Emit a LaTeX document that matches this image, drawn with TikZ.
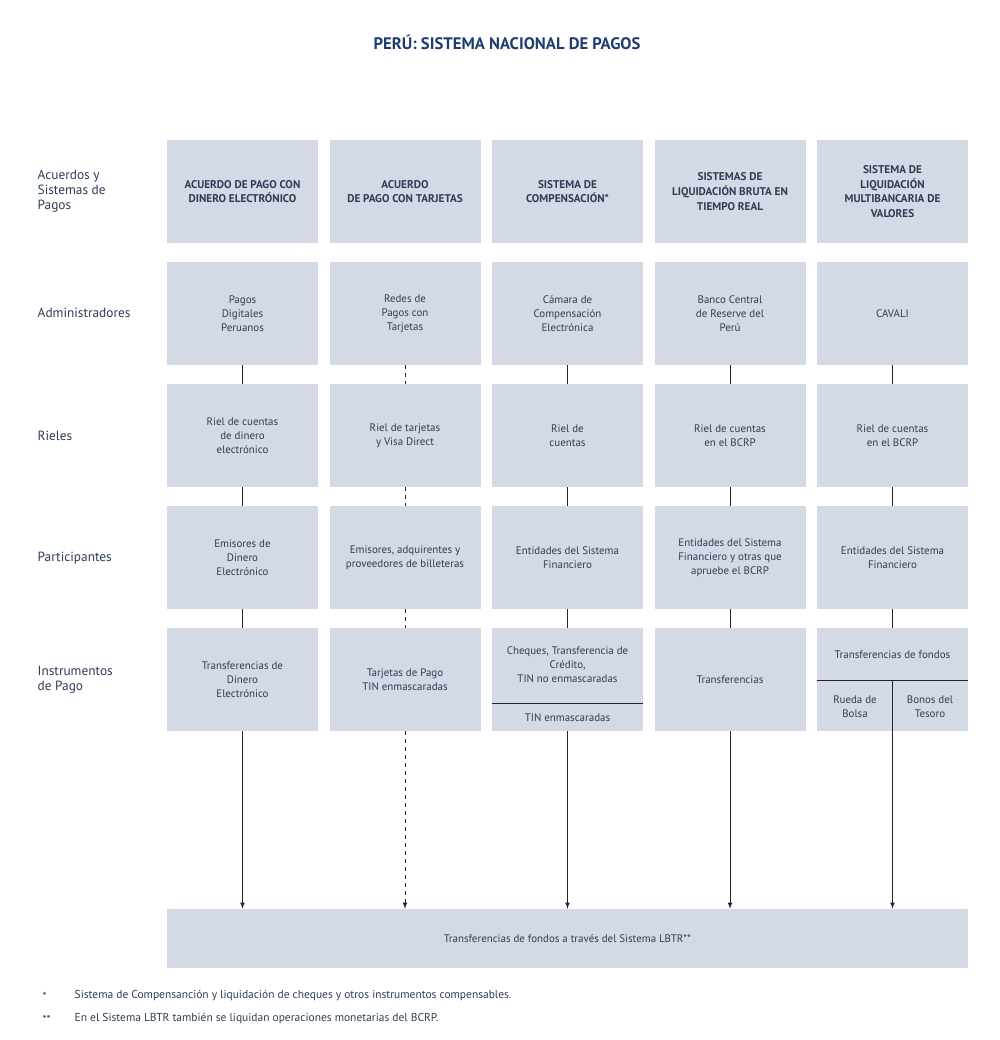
\documentclass[tikz,border=0pt]{standalone}
\usepackage{fontspec}
\setmainfont{PT Sans}
\begin{document}
\definecolor{bx}{HTML}{D3DAE6}
\definecolor{tt}{HTML}{1F3D6E}
\definecolor{tx}{HTML}{2E3D55}
\begin{tikzpicture}[x=0.75pt,y=-0.75pt,
  box/.style={fill=bx,draw=none,minimum width=113.25pt,minimum height=77.25pt,inner sep=0pt,align=center,font=\fontsize{8.2}{10.5}\selectfont,text=tx},
  hd/.style={box,font=\bfseries\fontsize{8.4}{11}\selectfont},
  lab/.style={anchor=west,align=left,font=\fontsize{10}{11.5}\selectfont,text=tx},
  ln/.style={draw=black!85,line width=0.6pt},
  ar/.style={ln,-latex}]
\useasboundingbox (0,0) rectangle (1000,1040);
\node[font=\bfseries\fontsize{12.5}{14}\selectfont,text=tt] (title) at (507,42) {PERÚ: SISTEMA NACIONAL DE PAGOS};
\foreach \c/\x in {1/242.5,2/405,3/567.5,4/730,5/892.5}{
 \foreach \r/\y in {1/191.5,2/313.5,3/435.5,4/557.5,5/679.5}{
   \coordinate (p\c\r) at (\x,\y);}}
\node[hd] (h1) at (p11) {ACUERDO DE PAGO CON\\DINERO ELECTRÓNICO};
\node[hd] (h2) at (p21) {ACUERDO\\DE PAGO CON TARJETAS};
\node[hd] (h3) at (p31) {SISTEMA DE\\COMPENSACIÓN*};
\node[hd] (h4) at (p41) {SISTEMAS DE\\LIQUIDACIÓN BRUTA EN\\TIEMPO REAL};
\node[hd] (h5) at (p51) {SISTEMA DE\\LIQUIDACIÓN\\MULTIBANCARIA DE\\VALORES};
\node[box] (a1) at (p12) {Pagos\\Digitales\\Peruanos};
\node[box] (a2) at (p22) {Redes de\\Pagos con\\Tarjetas};
\node[box] (a3) at (p32) {Cámara de\\Compensación\\Electrónica};
\node[box] (a4) at (p42) {Banco Central\\de Reserve del\\Perú};
\node[box] (a5) at (p52) {CAVALI};
\node[box] (r1) at (p13) {Riel de cuentas\\de dinero\\electrónico};
\node[box] (r2) at (p23) {Riel de tarjetas\\y Visa Direct};
\node[box] (r3) at (p33) {Riel de\\cuentas};
\node[box] (r4) at (p43) {Riel de cuentas\\en el BCRP};
\node[box] (r5) at (p53) {Riel de cuentas\\en el BCRP};
\node[box] (q1) at (p14) {Emisores de\\Dinero\\Electrónico};
\node[box] (q2) at (p24) {Emisores, adquirentes y\\proveedores de billeteras};
\node[box] (q3) at (p34) {Entidades del Sistema\\Financiero};
\node[box] (q4) at (p44) {Entidades del Sistema\\Financiero y otras que\\apruebe el BCRP};
\node[box] (q5) at (p54) {Entidades del Sistema\\Financiero};
\node[box] (i1) at (p15) {Transferencias de\\Dinero\\Electrónico};
\node[box] (i2) at (p25) {Tarjetas de Pago\\TIN enmascaradas};
\node[box] (i3) at (p35) {};
\node[box] (i4) at (p45) {Transferencias};
\node[box] (i5) at (p55) {};
\node[font=\fontsize{8.2}{10.5}\selectfont,text=tx,align=center] (i3a) at (567.5,665) {Cheques, Transferencia de\\Crédito,\\TIN no enmascaradas};
\node[font=\fontsize{8.2}{10.5}\selectfont,text=tx] (i3b) at (567.5,718) {TIN enmascaradas};
\draw[ln] (i3.west |- 0,703) coordinate (d3a) -- (i3.east |- 0,703) coordinate (d3b);
\node[font=\fontsize{8.2}{10.5}\selectfont,text=tx] (i5a) at (892.5,655) {Transferencias de fondos};
\node[font=\fontsize{8.2}{10.5}\selectfont,text=tx,align=center] (i5b) at (855,707) {Rueda de\\Bolsa};
\node[font=\fontsize{8.2}{10.5}\selectfont,text=tx,align=center] (i5c) at (930,707) {Bonos del\\Tesoro};
\draw[ln] (i5.west |- 0,680) coordinate (d5a) -- (i5.east |- 0,680) coordinate (d5b);
\node[box,minimum width=600.75pt,minimum height=44.25pt] (bot) at (567.5,938.5) {Transferencias de fondos a través del Sistema LBTR**};
\node[lab] (l1) at (33,191) {Acuerdos y\\Sistemas de\\Pagos};
\node[lab] (l2) at (33,313) {Administradores};
\node[lab] (l3) at (33,436) {Rieles};
\node[lab] (l4) at (33,558) {Participantes};
\node[lab] (l5) at (33,680) {Instrumentos\\de Pago};
\foreach \c in {1,3,4,5}{
 \draw[ln] (a\c) -- (r\c); \draw[ln] (r\c) -- (q\c); \draw[ln] (q\c) -- (i\c);}
\draw[ln,dashed] (a2) -- (r2); \draw[ln,dashed] (r2) -- (q2); \draw[ln,dashed] (q2) -- (i2);
\draw[ar] (i1.south) -- (i1.south |- bot.north);
\draw[ar,dashed] (i2.south) -- (i2.south |- bot.north);
\draw[ar] (i3.south) -- (i3.south |- bot.north);
\draw[ar] (i4.south) -- (i4.south |- bot.north);
\draw[ar] (i5.center |- d5a) -- (i5.south |- bot.north);
\node[anchor=west,font=\fontsize{8.6}{10}\selectfont,text=tx] (f1a) at (38,996) {*};
\node[anchor=west,font=\fontsize{8.6}{10}\selectfont,text=tx] (f1) at (70,996) {Sistema de Compensanción y liquidación de cheques y otros instrumentos compensables.};
\node[anchor=west,font=\fontsize{8.6}{10}\selectfont,text=tx] (f2a) at (38,1019) {**};
\node[anchor=west,font=\fontsize{8.6}{10}\selectfont,text=tx] (f2) at (70,1019) {En el Sistema LBTR también se liquidan operaciones monetarias del BCRP.};
\end{tikzpicture}
\end{document}
